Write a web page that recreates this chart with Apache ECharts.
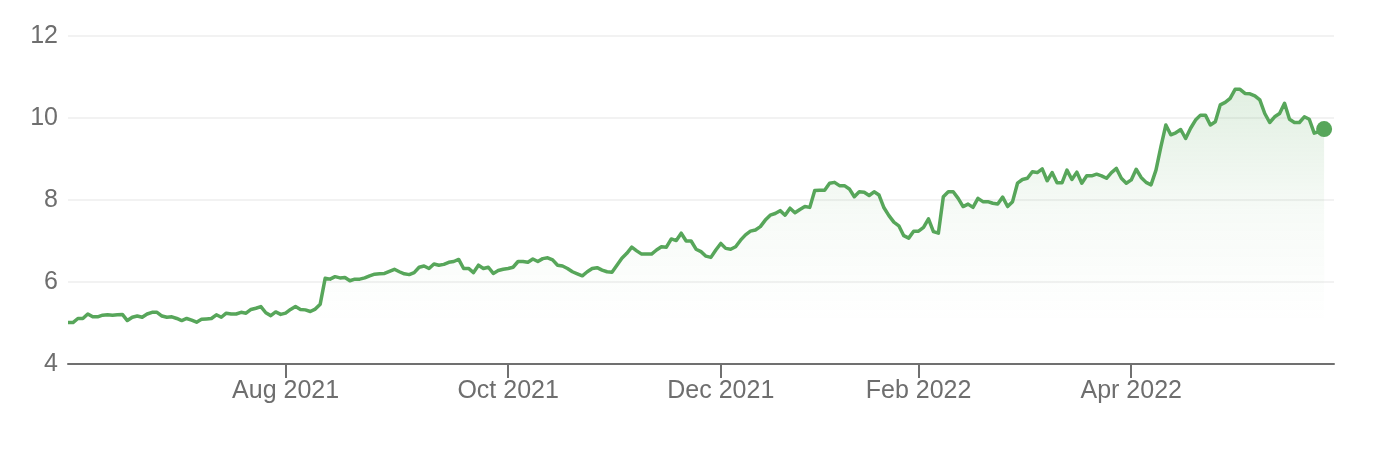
<!DOCTYPE html>
<html>
<head>
<meta charset="utf-8">
<title>Price chart</title>
<script src="https://cdn.jsdelivr.net/npm/echarts@6/dist/echarts.min.js"></script>
<style>
  html, body { margin: 0; padding: 0; background: #fff; }
  #chart { width: 1378px; height: 452px; }
</style>
</head>
<body>
<div id="chart"></div>
<script>
// one value per trading day, Jun 2021 -> May 2022
const values = [
  5.01, 5.01, 5.11, 5.11, 5.22, 5.15, 5.15, 5.19, 5.20, 5.19, 5.20, 5.21, 5.06, 5.14, 5.17,
  5.14, 5.22, 5.26, 5.26, 5.17, 5.14, 5.15, 5.11, 5.06, 5.11, 5.07, 5.02, 5.09, 5.10, 5.11,
  5.20, 5.14, 5.24, 5.22, 5.22, 5.26, 5.24, 5.33, 5.36, 5.40, 5.25, 5.18, 5.27, 5.21, 5.24,
  5.33, 5.40, 5.33, 5.32, 5.28, 5.34, 5.46, 6.09, 6.07, 6.13, 6.10, 6.11, 6.03, 6.07, 6.07,
  6.10, 6.15, 6.19, 6.20, 6.21, 6.26, 6.31, 6.25, 6.20, 6.18, 6.23, 6.36, 6.39, 6.33, 6.44,
  6.41, 6.43, 6.48, 6.50, 6.55, 6.33, 6.33, 6.23, 6.41, 6.33, 6.36, 6.21, 6.28, 6.31, 6.33,
  6.36, 6.50, 6.50, 6.48, 6.56, 6.50, 6.57, 6.59, 6.54, 6.41, 6.39, 6.33, 6.25, 6.20, 6.15,
  6.25, 6.33, 6.35, 6.29, 6.25, 6.24, 6.41, 6.58, 6.70, 6.85, 6.76, 6.68, 6.68, 6.68, 6.78, 6.86,
  6.85, 7.05, 7.01, 7.19, 7.00, 7.00, 6.80, 6.74, 6.63, 6.60, 6.78, 6.94, 6.82, 6.80, 6.86,
  7.02, 7.15, 7.24, 7.27, 7.35, 7.51, 7.63, 7.67, 7.74, 7.63, 7.80, 7.69, 7.77, 7.84, 7.82, 8.23,
  8.24, 8.24, 8.41, 8.43, 8.35, 8.35, 8.27, 8.08, 8.20, 8.19, 8.11, 8.20, 8.12, 7.81, 7.62,
  7.46, 7.37, 7.13, 7.07, 7.24, 7.24, 7.33, 7.54, 7.23, 7.19, 8.08, 8.20, 8.20, 8.04, 7.84,
  7.90, 7.82, 8.04, 7.96, 7.96, 7.92, 7.90, 8.07, 7.84, 7.96, 8.41, 8.50, 8.53, 8.69,
  8.67, 8.76, 8.47, 8.67, 8.42, 8.42, 8.73, 8.50, 8.68, 8.41, 8.59, 8.59, 8.63, 8.59,
  8.53, 8.67, 8.77, 8.53, 8.41, 8.49, 8.75, 8.55, 8.43, 8.37, 8.73, 9.30, 9.83, 9.59, 9.64,
  9.72, 9.50, 9.75, 9.95, 10.07, 10.07, 9.83, 9.91, 10.32, 10.38, 10.48, 10.70, 10.70, 10.60, 10.59,
  10.54, 10.44, 10.11, 9.89, 10.03, 10.11, 10.36, 9.97, 9.89, 9.89, 10.03, 9.97, 9.63, 9.67, 9.73
]

// first trading day of the labelled months
const tickIndex = [44, 89, 132, 172, 215]
const tickLabels = ['Aug 2021', 'Oct 2021', 'Dec 2021', 'Feb 2022', 'Apr 2022']

// two empty slots after the last day, the axis runs a little past it
const categories = Array.from({ length: values.length + 2 }, (_, i) => String(i))

const green = '#57a65a'
const font = "'Liberation Sans', Arial, Helvetica, sans-serif"

const isTick = (index) => tickIndex.includes(index)

const seriesData = values.map((v, i) => {
  if (i === values.length - 1) {
    return { value: v, symbol: 'circle', symbolSize: 16 }
  }
  return v
})

const chart = echarts.init(document.getElementById('chart'), null, { renderer: 'canvas' })

const option = {
  animation: false,
  grid: {
    left: 68,
    right: 44,
    top: 36,
    bottom: 88,
    containLabel: false
  },
  xAxis: {
    type: 'category',
    boundaryGap: false,
    data: categories,
    axisLine: {
      lineStyle: { color: '#707070', width: 2 }
    },
    axisTick: {
      show: true,
      interval: (index) => isTick(index),
      length: 14,
      lineStyle: { color: '#707070', width: 2 }
    },
    axisLabel: {
      interval: (index) => isTick(index),
      formatter: (value, index) => tickLabels[tickIndex.indexOf(Number(value))] || '',
      margin: 15,
      fontSize: 25,
      fontFamily: font,
      color: '#6e6e6e'
    },
    splitLine: { show: false }
  },
  yAxis: {
    type: 'value',
    min: 4,
    max: 12,
    interval: 2,
    axisLine: { show: false },
    axisTick: { show: false },
    axisLabel: {
      margin: 10,
      fontSize: 25,
      fontFamily: font,
      color: '#6e6e6e'
    },
    splitLine: {
      show: true,
      lineStyle: { color: '#f2f2f2', width: 2 }
    }
  },
  series: [
    {
      type: 'line',
      data: seriesData,
      symbol: 'none',
      showAllSymbol: true,
      itemStyle: { color: green },
      lineStyle: { color: green, width: 3.5, join: 'round' },
      areaStyle: {
        color: new echarts.graphic.LinearGradient(0, 0, 0, 1, [
          { offset: 0, color: 'rgba(87,166,90,0.25)' },
          { offset: 0.45, color: 'rgba(87,166,90,0.07)' },
          { offset: 0.85, color: 'rgba(87,166,90,0)' }
        ])
      }
    }
  ]
}

chart.setOption(option)
</script>
</body>
</html>
